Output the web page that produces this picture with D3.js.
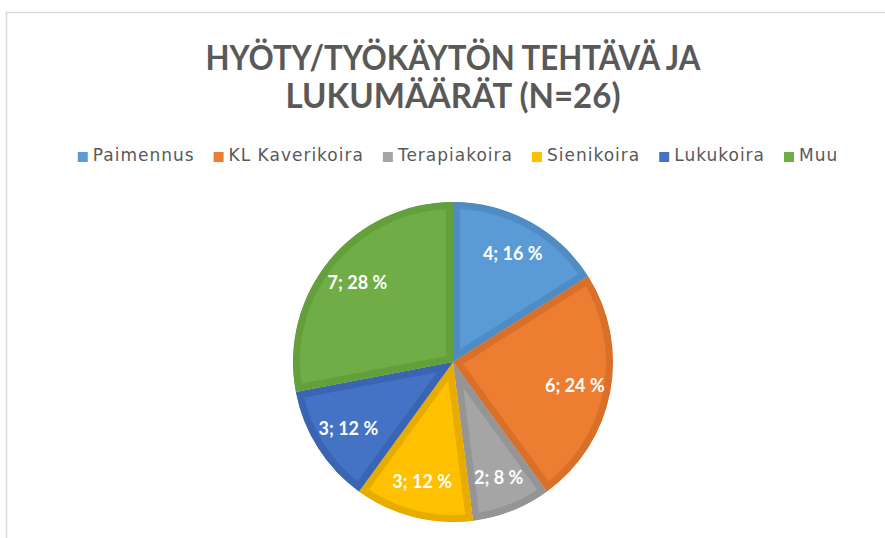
<!DOCTYPE html>
<html>
<head>
<meta charset="utf-8">
<script src="https://cdn.jsdelivr.net/npm/d3@7"></script>
<style>
  body { margin: 0; background: #fff; }
  svg { display: block; }
</style>
</head>
<body>
<div id="chart"></div>
<script>
// data
var categories = ["Paimennus", "KL Kaverikoira", "Terapiakoira", "Sienikoira", "Lukukoira", "Muu"];
var counts = [4, 6, 2, 3, 3, 7];
var percents = [16, 24, 8, 12, 12, 28];
var titleLines = ["HYÖTY/TYÖKÄYTÖN TEHTÄVÄ JA", "LUKUMÄÄRÄT (N=26)"];

var fills = ["#5B9BD5", "#ED7D31", "#A5A5A5", "#FFC000", "#4472C4", "#70AD47"];
var edges = ["#4F8CC4", "#D8702A", "#959595", "#E6AD00", "#3B65B3", "#63A03C"];

var width = 885, height = 538;
var cx = 453, cy = 362, radius = 160;

var svg = d3.select("#chart").append("svg")
    .attr("width", width)
    .attr("height", height);

// chart frame (only top and left edges are visible in the crop)
svg.append("rect")
    .attr("x", 6.5).attr("y", 12.5)
    .attr("width", width + 20).attr("height", height + 20)
    .attr("fill", "#fff")
    .attr("stroke", "#d9d9d9")
    .attr("stroke-width", 1.5);

// title
var titleWidths = [495, 335];
svg.append("g").attr("class", "title")
  .selectAll("text")
    .data(titleLines)
  .enter().append("text")
    .attr("x", 453)
    .attr("y", function(d, i) { return 70 + i * 38; })
    .attr("text-anchor", "middle")
    .attr("textLength", function(d, i) { return titleWidths[i]; })
    .attr("lengthAdjust", "spacingAndGlyphs")
    .style("font-family", "Lato, 'Open Sans', sans-serif")
    .style("font-weight", 700)
    .style("font-size", "35px")
    .style("fill", "#595959")
    .text(function(d) { return d; });

// legend
var legend = svg.append("g").attr("class", "legend");
var items = legend.selectAll("g")
    .data(categories)
  .enter().append("g");

items.append("rect")
    .attr("width", 10).attr("height", 10)
    .attr("y", -9)
    .attr("fill", function(d, i) { return fills[i]; });

items.append("text")
    .attr("x", 15)
    .style("font-family", "'DejaVu Sans', sans-serif")
    .style("font-size", "17px")
    .style("letter-spacing", "1px")
    .style("fill", "#595959")
    .text(function(d) { return d; });

var lx = 0;
items.each(function() {
  var g = d3.select(this);
  g.attr("transform", "translate(" + lx + ",0)");
  lx += 15 + g.select("text").node().getComputedTextLength() + 19;
});
lx -= 19;
legend.attr("transform", "translate(" + (458 - lx / 2) + ",161)");

// pie
var pie = d3.pie().sort(null).value(function(d) { return d; });
var arc = d3.arc().innerRadius(0).outerRadius(radius);
var labelArc = d3.arc().innerRadius(124).outerRadius(124);
var arcs = pie(counts);

var defs = svg.append("defs");
defs.selectAll("clipPath")
    .data(arcs)
  .enter().append("clipPath")
    .attr("id", function(d, i) { return "slice" + i; })
  .append("path")
    .attr("d", arc);

var g = svg.append("g")
    .attr("transform", "translate(" + cx + "," + cy + ")");

g.selectAll("path.slice")
    .data(arcs)
  .enter().append("path")
    .attr("class", "slice")
    .attr("d", arc)
    .attr("fill", function(d, i) { return fills[i]; })
    .attr("stroke", function(d, i) { return edges[i]; })
    .attr("stroke-width", 14)
    .attr("stroke-linejoin", "miter")
    .attr("clip-path", function(d, i) { return "url(#slice" + i + ")"; });

g.selectAll("text.label")
    .data(arcs)
  .enter().append("text")
    .attr("class", "label")
    .attr("transform", function(d) { return "translate(" + labelArc.centroid(d) + ")"; })
    .attr("text-anchor", "middle")
    .attr("dy", "0.35em")
    .style("font-family", "Lato, 'Open Sans', sans-serif")
    .style("font-weight", 700)
    .style("font-size", "18px")
    .style("fill", "#fff")
    .text(function(d, i) { return counts[i] + "; " + percents[i] + " %"; });
</script>
</body>
</html>
